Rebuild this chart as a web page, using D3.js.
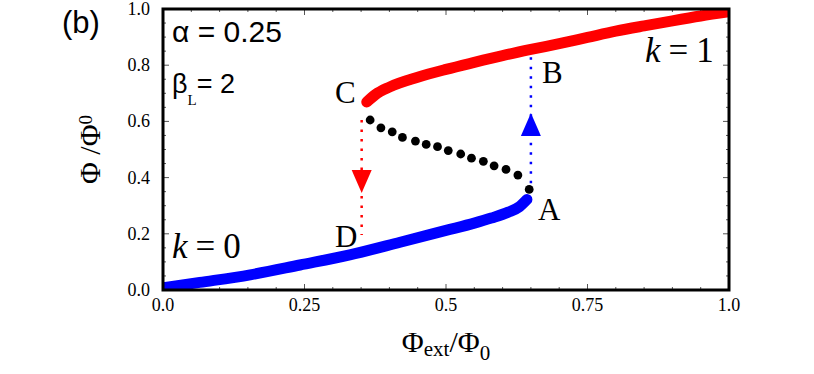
<!DOCTYPE html>
<html>
<head>
<meta charset="utf-8">
<script src="https://cdn.jsdelivr.net/npm/d3@7"></script>
<style>
  body { margin: 0; background: #fff; }
  svg { display: block; }
  .serif { font-family: "Liberation Serif", "Times New Roman", serif; }
  .sans { font-family: "Liberation Sans", Arial, sans-serif; }
</style>
</head>
<body>
<div id="chart"></div>
<script>
// Data
const xTickVals = [0, 0.25, 0.5, 0.75, 1.0];
const xTickLabels = ["0.0", "0.25", "0.5", "0.75", "1.0"];
const yTickVals = [0, 0.2, 0.4, 0.6, 0.8, 1.0];
const yTickLabels = ["0.0", "0.2", "0.4", "0.6", "0.8", "1.0"];

// k = 0 branch (blue)
const branch0 = [
  [0.0, 0.008], [0.065, 0.027], [0.154, 0.054], [0.242, 0.089], [0.330, 0.125],
  [0.419, 0.170], [0.50, 0.212], [0.55, 0.238], [0.58, 0.256], [0.61, 0.277],
  [0.63, 0.297], [0.643, 0.322]
];
// k = 1 branch (red)
const branch1 = [
  [0.360, 0.669], [0.375, 0.695], [0.40, 0.722], [0.45, 0.757], [0.50, 0.785],
  [0.55, 0.810], [0.60, 0.834], [0.65, 0.856], [0.70, 0.877], [0.75, 0.899],
  [0.80, 0.921], [0.85, 0.940], [0.90, 0.958], [0.95, 0.975], [1.0, 0.990]
];
// unstable branch (black dots)
const unstable = [
  [0.366, 0.605], [0.385, 0.577], [0.405, 0.563], [0.423, 0.543], [0.446, 0.530],
  [0.465, 0.518], [0.485, 0.510], [0.504, 0.496], [0.526, 0.484], [0.545, 0.469],
  [0.566, 0.458], [0.585, 0.442], [0.606, 0.429], [0.627, 0.409], [0.647, 0.358]
];
// jumps: x, from, to, arrow tip
const jumpDown = { x: 0.351, y0: 0.605, y1: 0.196, tip: 0.345 };
const jumpUp = { x: 0.650, y0: 0.380, y1: 0.836, tip: 0.630 };

const width = 814, height = 374;
const margin = { left: 163, right: 814 - 729, top: 9, bottom: 374 - 290 };

const svg = d3.select("#chart").append("svg")
  .attr("width", width)
  .attr("height", height);

const x = d3.scaleLinear().domain([0, 1]).range([margin.left, width - margin.right]);
const y = d3.scaleLinear().domain([0, 1]).range([height - margin.bottom, margin.top]);

svg.append("defs").append("clipPath").attr("id", "plot")
  .append("rect")
  .attr("x", x(0)).attr("y", y(1))
  .attr("width", x(1) - x(0)).attr("height", y(0) - y(1));

// Minor / major ticks, inward on all four sides
const tickG = svg.append("g").attr("stroke", "#555").attr("stroke-width", 1);
const xMinor = d3.range(0, 1.0001, 0.05);
const yMinor = d3.range(0, 1.0001, 0.05);
xMinor.forEach(v => {
  const major = xTickVals.some(t => Math.abs(t - v) < 1e-6);
  const len = major ? 6 : 3;
  tickG.append("line").attr("x1", x(v)).attr("x2", x(v)).attr("y1", y(0)).attr("y2", y(0) - len);
  tickG.append("line").attr("x1", x(v)).attr("x2", x(v)).attr("y1", y(1)).attr("y2", y(1) + len);
});
yMinor.forEach(v => {
  const major = yTickVals.some(t => Math.abs(t - v) < 1e-6);
  const len = major ? 6 : 3;
  tickG.append("line").attr("y1", y(v)).attr("y2", y(v)).attr("x1", x(0)).attr("x2", x(0) + len);
  tickG.append("line").attr("y1", y(v)).attr("y2", y(v)).attr("x1", x(1)).attr("x2", x(1) - len);
});

const plot = svg.append("g").attr("clip-path", "url(#plot)");

const line = d3.line().x(d => x(d[0])).y(d => y(d[1])).curve(d3.curveMonotoneX);

// Jump lines (dotted)
plot.append("line")
  .attr("x1", x(jumpDown.x)).attr("x2", x(jumpDown.x))
  .attr("y1", y(jumpDown.y0)).attr("y2", y(jumpDown.y1))
  .attr("stroke", "#ff0000").attr("stroke-width", 2.5)
  .attr("stroke-dasharray", "2.5,7");
plot.append("line")
  .attr("x1", x(jumpUp.x)).attr("x2", x(jumpUp.x))
  .attr("y1", y(jumpUp.y0)).attr("y2", y(jumpUp.y1))
  .attr("stroke", "#0000ff").attr("stroke-width", 2.5)
  .attr("stroke-dasharray", "2.5,7");

// Arrowheads
function arrowHead(cx, tipY, dir, color) {
  // dir = 1 points down, -1 points up
  const h = 23, w = 10;
  plot.append("path")
    .attr("d", `M${cx},${tipY}L${cx - w},${tipY - dir * h}L${cx + w},${tipY - dir * h}Z`)
    .attr("fill", color);
}
arrowHead(x(jumpDown.x), y(jumpDown.tip), 1, "#ff0000");
arrowHead(x(jumpUp.x), y(jumpUp.tip), -1, "#0000ff");

// Stable branches
plot.append("path").datum(branch0)
  .attr("d", line)
  .attr("fill", "none").attr("stroke", "#0000ff")
  .attr("stroke-width", 11).attr("stroke-linecap", "round");
plot.append("path").datum(branch1)
  .attr("d", line)
  .attr("fill", "none").attr("stroke", "#ff0000")
  .attr("stroke-width", 11).attr("stroke-linecap", "round");

// Unstable branch
plot.selectAll("circle.u").data(unstable).enter().append("circle")
  .attr("class", "u")
  .attr("cx", d => x(d[0])).attr("cy", d => y(d[1]))
  .attr("r", 4.4).attr("fill", "#000");

// Frame
svg.append("rect")
  .attr("x", x(0)).attr("y", y(1))
  .attr("width", x(1) - x(0)).attr("height", y(0) - y(1))
  .attr("fill", "none").attr("stroke", "#000").attr("stroke-width", 3);

// Tick labels
svg.append("g").selectAll("text").data(xTickVals).enter().append("text")
  .attr("class", "serif")
  .attr("x", d => x(d)).attr("y", 311)
  .attr("text-anchor", "middle")
  .attr("font-size", 18)
  .text((d, i) => xTickLabels[i]);
svg.append("g").selectAll("text").data(yTickVals).enter().append("text")
  .attr("class", "serif")
  .attr("x", 150).attr("y", d => y(d) + 6)
  .attr("text-anchor", "end")
  .attr("font-size", 18)
  .text((d, i) => yTickLabels[i]);

// Axis titles
const xt = svg.append("text").attr("class", "serif")
  .attr("x", (x(0) + x(1)) / 2).attr("y", 352)
  .attr("text-anchor", "middle").attr("font-size", 30);
xt.append("tspan").text("Φ");
xt.append("tspan").attr("font-size", 21).attr("dy", 4).text("ext");
xt.append("tspan").attr("dy", -4).text("/Φ");
xt.append("tspan").attr("font-size", 21).attr("dy", 8).text("0");

const yt = svg.append("text").attr("class", "serif")
  .attr("transform", `translate(100,${(y(0) + y(1)) / 2}) rotate(-90)`)
  .attr("text-anchor", "middle").attr("font-size", 30);
yt.append("tspan").text("Φ /Φ");
yt.append("tspan").attr("font-size", 19).attr("dy", -8).text("0");

// Panel label and parameters
svg.append("text").attr("class", "sans")
  .attr("x", 62).attr("y", 33).attr("font-size", 31).text("(b)");
svg.append("text").attr("class", "sans")
  .attr("x", 172).attr("y", 42).attr("font-size", 30).text("α = 0.25");
const bt = svg.append("text").attr("class", "sans")
  .attr("x", 172).attr("y", 93).attr("font-size", 27);
bt.append("tspan").text("β");
bt.append("tspan").attr("class", "serif").attr("font-size", 15).attr("dy", 12).text("L");
bt.append("tspan").attr("dy", -12).text("= 2");

// Branch labels
function kLabel(px, py, val) {
  const t = svg.append("text").attr("class", "serif")
    .attr("x", px).attr("y", py).attr("font-size", 35);
  t.append("tspan").attr("font-style", "italic").text("k");
  t.append("tspan").attr("dx", 8).text("=");
  t.append("tspan").attr("dx", 8).text(val);
}
kLabel(172, 258, "0");
kLabel(645, 62, "1");

// Point labels
const pts = [["C", 335, 103], ["B", 542, 83], ["A", 538, 220], ["D", 335, 247]];
svg.append("g").selectAll("text").data(pts).enter().append("text")
  .attr("class", "serif")
  .attr("x", d => d[1]).attr("y", d => d[2])
  .attr("font-size", 31)
  .text(d => d[0]);
</script>
</body>
</html>
